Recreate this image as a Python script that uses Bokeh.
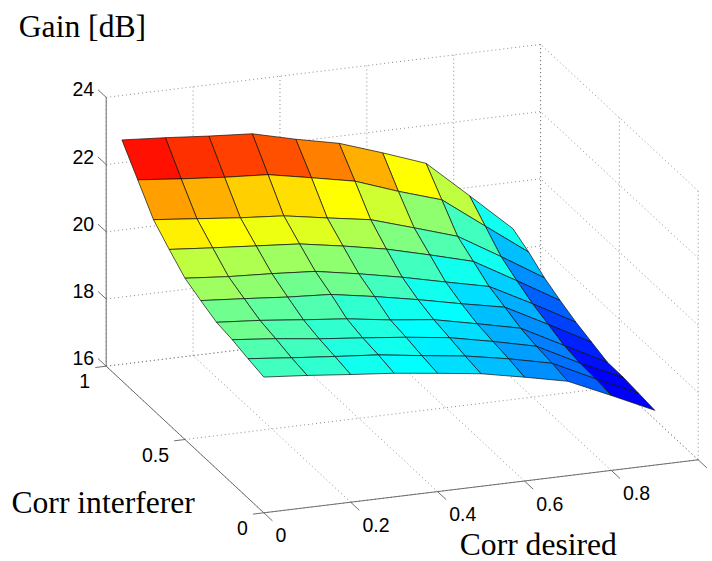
import numpy as np
from bokeh.plotting import figure
from bokeh.models import Range1d
from bokeh.core.properties import value
from bokeh.embed import file_html
from bokeh.resources import INLINE

corr_desired = [0.0, 0.1, 0.2, 0.3, 0.4, 0.5, 0.6, 0.7, 0.8, 0.9]
corr_interferer = [0.0, 0.1, 0.2, 0.3, 0.4, 0.5, 0.6, 0.7, 0.8, 0.9]

gain_i00 = [20.04, 19.93, 19.80, 19.68, 19.52, 19.35, 19.09, 18.81, 18.23, 17.63]
gain_i01 = [20.15, 20.02, 19.90, 19.79, 19.61, 19.44, 19.20, 18.91, 18.29, 17.69]
gain_i02 = [20.28, 20.15, 19.99, 19.86, 19.72, 19.55, 19.28, 18.98, 18.32, 17.74]
gain_i03 = [20.36, 20.26, 20.12, 19.99, 19.80, 19.65, 19.37, 19.08, 18.41, 17.75]
gain_i04 = [20.57, 20.47, 20.36, 20.28, 20.06, 19.81, 19.53, 19.27, 18.60, 17.91]
gain_i05 = [20.80, 20.69, 20.62, 20.53, 20.30, 20.04, 19.74, 19.45, 18.78, 18.07]
gain_i06 = [21.22, 21.11, 21.01, 20.91, 20.69, 20.44, 20.11, 19.76, 19.03, 18.28]
gain_i07 = [21.67, 21.54, 21.41, 21.31, 21.09, 20.88, 20.48, 20.07, 19.31, 18.52]
gain_i08 = [22.42, 22.29, 22.18, 22.10, 21.85, 21.59, 21.13, 20.72, 19.78, 18.85]
gain_i09 = [23.17, 23.08, 22.97, 22.88, 22.56, 22.28, 21.84, 21.37, 20.25, 19.11]

x_ticks = [0, 0.2, 0.4, 0.6, 0.8, 1]
x_tick_labels = ["0", "0.2", "0.4", "0.6", "0.8", ""]
y_ticks = [0, 0.5, 1]
y_tick_labels = ["0", "0.5", "1"]
z_ticks = [16, 18, 20, 22, 24]
z_tick_labels = ["16", "18", "20", "22", "24"]
color_limits = (17.6, 23.3)

title_gain = "Gain [dB]"
title_x = "Corr desired"
title_y = "Corr interferer"

W, H = 712, 561
Z = np.array([gain_i00, gain_i01, gain_i02, gain_i03, gain_i04,
              gain_i05, gain_i06, gain_i07, gain_i08, gain_i09])


def project(x, y, z):
    """Orthographic view of the box, in page pixels."""
    return (263.3 + 434.4 * x - 157.6 * y,
            512.3 - 53.0 * x - 146.6 * y - 33.6 * (z - 16.0))


def jet64(v, lo, hi):
    idx = min(63, max(0, int((v - lo) / (hi - lo) * 64)))
    t = (idx + 1) / 64
    c = lambda a: int(round(255 * min(1.0, max(0.0, a))))
    return "#%02x%02x%02x" % (c(min(4 * t - 1.5, -4 * t + 4.5)),
                              c(min(4 * t - 0.5, -4 * t + 3.5)),
                              c(min(4 * t + 0.5, -4 * t + 2.5)))


p = figure(width=W, height=H, output_backend="svg", toolbar_location=None,
           x_range=Range1d(0, W), y_range=Range1d(H, 0),
           x_axis_type=None, y_axis_type=None, min_border=0,
           outline_line_color=None, background_fill_color="white")
p.grid.visible = False


def seg(a, b):
    xa, ya = project(*a)
    xb, yb = project(*b)
    return [xa, xb], [ya, yb]


# dotted grid on floor and the two back walls
grid = []
for x in x_ticks:
    grid.append(seg((x, 0, 16), (x, 1, 16)))
    grid.append(seg((x, 1, 16), (x, 1, 24)))
for y in y_ticks:
    grid.append(seg((0, y, 16), (1, y, 16)))
    grid.append(seg((1, y, 16), (1, y, 24)))
for z in z_ticks:
    grid.append(seg((0, 1, z), (1, 1, z)))
    grid.append(seg((1, 0, z), (1, 1, z)))
p.multi_line([g[0] for g in grid], [g[1] for g in grid],
             line_color="#707070", line_width=0.8, line_dash="1 3")

# solid axis lines and tick marks
solid = [seg((0, 0, 16), (1, 0, 16)), seg((0, 0, 16), (0, 1, 16)), seg((0, 1, 16), (0, 1, 24))]
for x in x_ticks:
    solid.append(seg((x, 0, 16), (x, -0.055, 16)))
for y in y_ticks:
    solid.append(seg((0, y, 16), (-0.025, y, 16)))
for z in z_ticks:
    solid.append(seg((0, 1, z), (0, 1.052, z)))
p.multi_line([g[0] for g in solid], [g[1] for g in solid], line_color="#606060", line_width=0.9)

# surface, painted from back to front
lo, hi = color_limits
xs, ys, cs = [], [], []
for j in range(len(corr_interferer) - 2, -1, -1):
    for i in range(len(corr_desired) - 2, -1, -1):
        corners = [(i, j), (i + 1, j), (i + 1, j + 1), (i, j + 1)]
        pts = [project(corr_desired[a], corr_interferer[b], Z[b, a]) for a, b in corners]
        xs.append([q[0] for q in pts])
        ys.append([q[1] for q in pts])
        cs.append(jet64(Z[j, i], lo, hi))
p.patches(xs, ys, fill_color=cs, line_color="#101010", line_width=0.7)

# tick labels
tick_size = value("19.5px")
sans = value("Liberation Sans")
serif = value("Liberation Serif")
pts = [project(x, 0, 16) for x in x_ticks]
p.text([q[0] + 11.7 for q in pts], [q[1] + 22.5 for q in pts], text=x_tick_labels,
       text_font_size=tick_size, text_font=sans, text_align="left",
       text_baseline="middle", text_color="black")
pts = [project(0, y, 16) for y in y_ticks]
p.text([q[0] - 16 for q in pts], [q[1] + 15 for q in pts], text=y_tick_labels,
       text_font_size=tick_size, text_font=sans, text_align="right",
       text_baseline="middle", text_color="black")
pts = [project(0, 1, z) for z in z_ticks]
p.text([q[0] - 12 for q in pts], [q[1] - 8 for q in pts], text=z_tick_labels,
       text_font_size=tick_size, text_font=sans, text_align="right",
       text_baseline="middle", text_color="black")

# axis titles
for label, tx, ty in [(title_gain, 18.3, 25.5), (title_y, 11, 501.5), (title_x, 459.3, 544)]:
    p.text([tx], [ty], text=[label], text_font_size=value("31.6px"), text_font=serif,
           text_align="left", text_baseline="alphabetic", text_color="black")

open("out.html", "w").write(file_html(p, INLINE))
